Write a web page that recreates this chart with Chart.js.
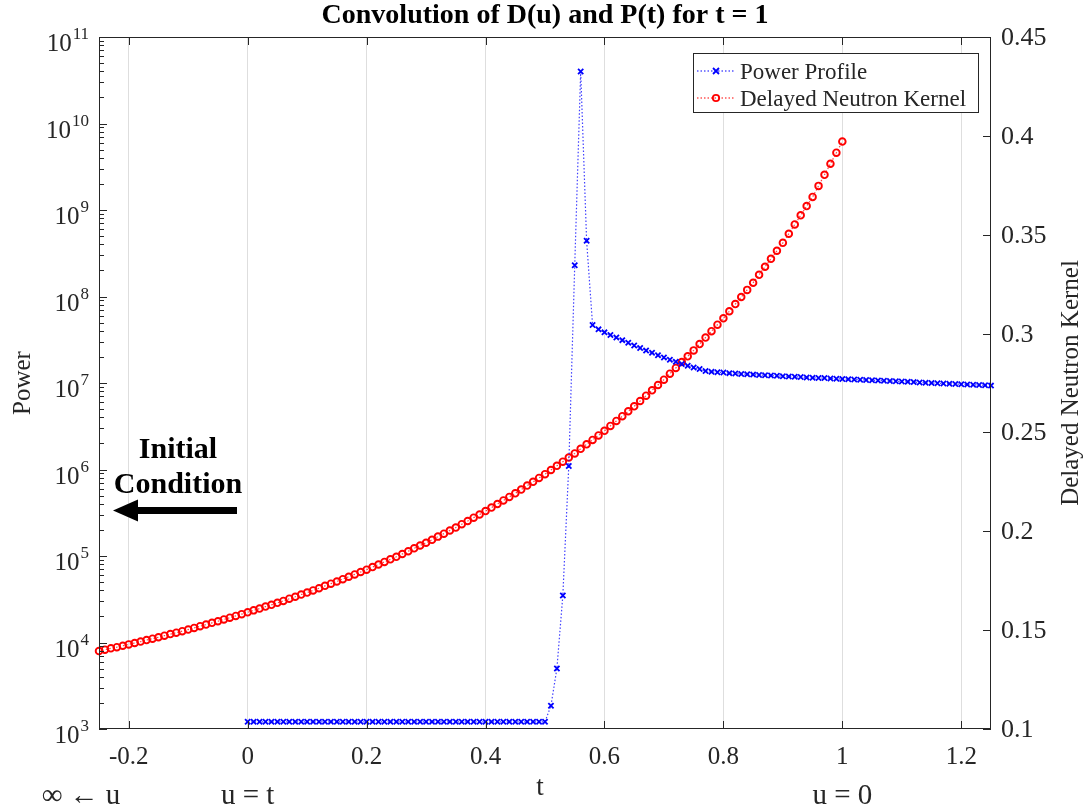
<!DOCTYPE html>
<html>
<head>
<meta charset="utf-8">
<script src="https://cdn.jsdelivr.net/npm/chart.js@4.4.1/dist/chart.umd.min.js"></script>
<style>
  html, body { margin: 0; padding: 0; background: #fff; }
  #wrap { width: 1088px; height: 809px; }
</style>
</head>
<body>
<div id="wrap"><canvas id="chart" width="1088" height="809"></canvas></div>
<script>
// Power profile P(t), left (log) axis
const powerT = [
  0.00, 0.01, 0.02, 0.03, 0.04, 0.05, 0.06, 0.07, 0.08, 0.09,
  0.10, 0.11, 0.12, 0.13, 0.14, 0.15, 0.16, 0.17, 0.18, 0.19,
  0.20, 0.21, 0.22, 0.23, 0.24, 0.25, 0.26, 0.27, 0.28, 0.29,
  0.30, 0.31, 0.32, 0.33, 0.34, 0.35, 0.36, 0.37, 0.38, 0.39,
  0.40, 0.41, 0.42, 0.43, 0.44, 0.45, 0.46, 0.47, 0.48, 0.49,
  0.50, 0.51, 0.52, 0.53, 0.54, 0.55, 0.56, 0.57, 0.58, 0.59,
  0.60, 0.61, 0.62, 0.63, 0.64, 0.65, 0.66, 0.67, 0.68, 0.69,
  0.70, 0.71, 0.72, 0.73, 0.74, 0.75, 0.76, 0.77, 0.78, 0.79,
  0.80, 0.81, 0.82, 0.83, 0.84, 0.85, 0.86, 0.87, 0.88, 0.89,
  0.90, 0.91, 0.92, 0.93, 0.94, 0.95, 0.96, 0.97, 0.98, 0.99,
  1.00, 1.01, 1.02, 1.03, 1.04, 1.05, 1.06, 1.07, 1.08, 1.09,
  1.10, 1.11, 1.12, 1.13, 1.14, 1.15, 1.16, 1.17, 1.18, 1.19,
  1.20, 1.21, 1.22, 1.23, 1.24, 1.25
];
const powerVals = [
  1210, 1210, 1210, 1210, 1210, 1210, 1210, 1210, 1210, 1210,
  1210, 1210, 1210, 1210, 1210, 1210, 1210, 1210, 1210, 1210,
  1210, 1210, 1210, 1210, 1210, 1210, 1210, 1210, 1210, 1210,
  1210, 1210, 1210, 1210, 1210, 1210, 1210, 1210, 1210, 1210,
  1210, 1210, 1210, 1210, 1210, 1210, 1210, 1210, 1210, 1210,
  1210, 1860, 5000, 3.5e4, 1.1e6, 2.3e8, 4.0e10, 4.4e8, 4.68e7, 4.17e7,
  3.85e7, 3.59e7, 3.35e7, 3.13e7, 2.92e7, 2.72e7, 2.54e7, 2.37e7, 2.24e7, 2.09e7,
  1.97e7, 1.86e7, 1.76e7, 1.66e7, 1.58e7, 1.51e7, 1.45e7, 1.38e7, 1.35e7, 1.33e7,
  1.32e7, 1.30e7, 1.29e7, 1.27e7, 1.26e7, 1.25e7, 1.24e7, 1.23e7, 1.22e7, 1.21e7,
  1.20e7, 1.19e7, 1.18e7, 1.17e7, 1.16e7, 1.15e7, 1.145e7, 1.14e7, 1.13e7, 1.12e7,
  1.115e7, 1.107e7, 1.099e7, 1.091e7, 1.083e7, 1.076e7, 1.068e7, 1.061e7, 1.053e7, 1.046e7,
  1.038e7, 1.031e7, 1.024e7, 1.016e7, 1.009e7, 1.002e7, 9.95e6, 9.88e6, 9.81e6, 9.74e6,
  9.67e6, 9.60e6, 9.53e6, 9.47e6, 9.40e6, 9.33e6
];

// Delayed neutron kernel D(u), right axis
const kernelT = [
  -0.25, -0.24, -0.23, -0.22, -0.21, -0.20, -0.19, -0.18, -0.17, -0.16,
  -0.15, -0.14, -0.13, -0.12, -0.11, -0.10, -0.09, -0.08, -0.07, -0.06,
  -0.05, -0.04, -0.03, -0.02, -0.01, 0.00, 0.01, 0.02, 0.03, 0.04,
  0.05, 0.06, 0.07, 0.08, 0.09, 0.10, 0.11, 0.12, 0.13, 0.14,
  0.15, 0.16, 0.17, 0.18, 0.19, 0.20, 0.21, 0.22, 0.23, 0.24,
  0.25, 0.26, 0.27, 0.28, 0.29, 0.30, 0.31, 0.32, 0.33, 0.34,
  0.35, 0.36, 0.37, 0.38, 0.39, 0.40, 0.41, 0.42, 0.43, 0.44,
  0.45, 0.46, 0.47, 0.48, 0.49, 0.50, 0.51, 0.52, 0.53, 0.54,
  0.55, 0.56, 0.57, 0.58, 0.59, 0.60, 0.61, 0.62, 0.63, 0.64,
  0.65, 0.66, 0.67, 0.68, 0.69, 0.70, 0.71, 0.72, 0.73, 0.74,
  0.75, 0.76, 0.77, 0.78, 0.79, 0.80, 0.81, 0.82, 0.83, 0.84,
  0.85, 0.86, 0.87, 0.88, 0.89, 0.90, 0.91, 0.92, 0.93, 0.94,
  0.95, 0.96, 0.97, 0.98, 0.99, 1.00
];
const kernelVals = [
  0.1394, 0.1401, 0.1408, 0.1414, 0.1421, 0.1428, 0.1435, 0.1442, 0.1450, 0.1457,
  0.1464, 0.1472, 0.1480, 0.1487, 0.1495, 0.1503, 0.1511, 0.1520, 0.1528, 0.1537,
  0.1545, 0.1554, 0.1563, 0.1572, 0.1581, 0.1590, 0.1600, 0.1609, 0.1619, 0.1628,
  0.1638, 0.1648, 0.1659, 0.1669, 0.1680, 0.1690, 0.1701, 0.1712, 0.1724, 0.1735,
  0.1746, 0.1758, 0.1770, 0.1782, 0.1794, 0.1806, 0.1819, 0.1832, 0.1845, 0.1858,
  0.1871, 0.1885, 0.1899, 0.1914, 0.1928, 0.1942, 0.1957, 0.1973, 0.1988, 0.2004,
  0.2019, 0.2036, 0.2052, 0.2069, 0.2085, 0.2102, 0.2120, 0.2138, 0.2156, 0.2174,
  0.2192, 0.2211, 0.2231, 0.2250, 0.2270, 0.2289, 0.2310, 0.2331, 0.2352, 0.2373,
  0.2394, 0.2417, 0.2440, 0.2462, 0.2485, 0.2508, 0.2533, 0.2558, 0.2582, 0.2607,
  0.2632, 0.2659, 0.2686, 0.2713, 0.2740, 0.2767, 0.2797, 0.2826, 0.2856, 0.2885,
  0.2915, 0.2947, 0.2980, 0.3012, 0.3045, 0.3077, 0.3113, 0.3149, 0.3185, 0.3221,
  0.3257, 0.3297, 0.3338, 0.3378, 0.3419, 0.3459, 0.3505, 0.3552, 0.3598, 0.3645,
  0.3691, 0.3747, 0.3803, 0.3859, 0.3915, 0.3971
];

// Tick values and labels
const xTicks = [-0.2, 0, 0.2, 0.4, 0.6, 0.8, 1, 1.2];
const xTickLabels = ['-0.2', '0', '0.2', '0.4', '0.6', '0.8', '1', '1.2'];
const powerExp = [3, 4, 5, 6, 7, 8, 9, 10, 11];
const kernelTicks = [0.1, 0.15, 0.2, 0.25, 0.3, 0.35, 0.4, 0.45];
const kernelTickLabels = ['0.1', '0.15', '0.2', '0.25', '0.3', '0.35', '0.4', '0.45'];

const SERIF = '"Liberation Serif", "Times New Roman", serif';
const AXIS = '#262626';
const BLUE = '#0000ff';
const RED = '#ff0000';

function drawCross(ctx, x, y, r) {
  ctx.beginPath();
  ctx.moveTo(x - r, y - r); ctx.lineTo(x + r, y + r);
  ctx.moveTo(x - r, y + r); ctx.lineTo(x + r, y - r);
  ctx.stroke();
}

const decor = {
  id: 'decor',
  afterDraw(chart) {
    const { ctx, chartArea: a, scales } = chart;
    const xs = scales.x, yl = scales.y, yr = scales.y1;
    ctx.save();

    // axes box
    ctx.strokeStyle = AXIS;
    ctx.lineWidth = 1;
    ctx.strokeRect(a.left + 0.5, a.top + 0.5, a.right - a.left - 1, a.bottom - a.top - 1);

    // inward tick marks
    ctx.beginPath();
    xTicks.forEach(v => {
      const px = Math.round(xs.getPixelForValue(v)) + 0.5;
      ctx.moveTo(px, a.bottom); ctx.lineTo(px, a.bottom - 8);
      ctx.moveTo(px, a.top); ctx.lineTo(px, a.top + 8);
    });
    powerExp.forEach(e => {
      const py = Math.round(yl.getPixelForValue(Math.pow(10, e))) + 0.5;
      ctx.moveTo(a.left, py); ctx.lineTo(a.left + 8, py);
      if (e < 11) {
        for (let k = 2; k <= 9; k++) {
          const pm = Math.round(yl.getPixelForValue(k * Math.pow(10, e))) + 0.5;
          ctx.moveTo(a.left, pm); ctx.lineTo(a.left + 5, pm);
        }
      }
    });
    kernelTicks.forEach(v => {
      const py = Math.round(yr.getPixelForValue(v)) + 0.5;
      ctx.moveTo(a.right, py); ctx.lineTo(a.right - 8, py);
    });
    ctx.stroke();

    // tick labels
    ctx.fillStyle = AXIS;
    ctx.font = '25px ' + SERIF;
    ctx.textBaseline = 'alphabetic';
    ctx.textAlign = 'center';
    xTicks.forEach((v, i) => {
      ctx.fillText(xTickLabels[i], xs.getPixelForValue(v), a.bottom + 35);
    });
    ctx.textAlign = 'left';
    ctx.font = '26px ' + SERIF;
    kernelTicks.forEach((v, i) => {
      ctx.fillText(kernelTickLabels[i], a.right + 10, yr.getPixelForValue(v) + 8);
    });
    powerExp.forEach(e => {
      const py = yl.getPixelForValue(Math.pow(10, e));
      ctx.font = '17px ' + SERIF;
      const sup = String(e);
      const wSup = ctx.measureText(sup).width;
      ctx.font = '25px ' + SERIF;
      const wBase = ctx.measureText('10').width;
      const right = a.left - 10;
      ctx.fillText('10', right - wSup - 1 - wBase, py + 14);
      ctx.font = '17px ' + SERIF;
      ctx.fillText(sup, right - wSup, py + 2);
    });

    // title
    ctx.fillStyle = '#000';
    ctx.textAlign = 'center';
    ctx.font = 'bold 28px ' + SERIF;
    ctx.fillText('Convolution of D(u) and P(t) for t = 1', (a.left + a.right) / 2, 23);

    // axis titles
    ctx.fillStyle = AXIS;
    ctx.font = '25px ' + SERIF;
    const midY = (a.top + a.bottom) / 2;
    ctx.save();
    ctx.translate(30, midY);
    ctx.rotate(-Math.PI / 2);
    ctx.fillText('Power', 0, 0);
    ctx.restore();
    ctx.save();
    ctx.translate(1078, midY);
    ctx.rotate(-Math.PI / 2);
    ctx.fillText('Delayed Neutron Kernel', 0, 0);
    ctx.restore();

    // x label and u annotations
    ctx.font = '27px ' + SERIF;
    ctx.fillText('t', (a.left + a.right) / 2 - 5, a.bottom + 66);
    ctx.font = '29px ' + SERIF;
    ctx.fillText('\u221E \u2190 u', 81, a.bottom + 75);
    ctx.fillText('u = t', xs.getPixelForValue(0), a.bottom + 75);
    ctx.fillText('u = 0', xs.getPixelForValue(1), a.bottom + 75);

    // initial condition note and arrow
    ctx.fillStyle = '#000';
    ctx.font = 'bold 30px ' + SERIF;
    ctx.fillText('Initial', 178, 458);
    ctx.fillText('Condition', 178, 493);
    ctx.fillRect(136, 507, 101, 7);
    ctx.beginPath();
    ctx.moveTo(113, 510.5);
    ctx.lineTo(138, 499.5);
    ctx.lineTo(138, 521.5);
    ctx.closePath();
    ctx.fill();

    // legend
    const lx = 693, ly = 53, lw = 285, lh = 59;
    ctx.fillStyle = '#fff';
    ctx.fillRect(lx, ly, lw, lh);
    ctx.strokeStyle = AXIS;
    ctx.lineWidth = 1;
    ctx.strokeRect(lx + 0.5, ly + 0.5, lw, lh);
    const rows = [
      { text: 'Power Profile', color: BLUE, y: 71, marker: 'x' },
      { text: 'Delayed Neutron Kernel', color: RED, y: 98, marker: 'o' }
    ];
    rows.forEach(r => {
      ctx.strokeStyle = r.color;
      ctx.lineWidth = 1.2;
      ctx.setLineDash([1.5, 2]);
      ctx.beginPath();
      ctx.moveTo(697, r.y); ctx.lineTo(735, r.y);
      ctx.stroke();
      ctx.setLineDash([]);
      ctx.lineWidth = 1.8;
      if (r.marker === 'x') {
        drawCross(ctx, 716, r.y, 3);
      } else {
        ctx.beginPath(); ctx.arc(716, r.y, 3.2, 0, Math.PI * 2); ctx.stroke();
      }
      ctx.fillStyle = AXIS;
      ctx.font = '23px ' + SERIF;
      ctx.textAlign = 'left';
      ctx.fillText(r.text, 740, r.y + 8);
    });

    ctx.restore();
  }
};

new Chart(document.getElementById('chart'), {
  type: 'line',
  data: {
    datasets: [
      {
        label: 'Power Profile',
        data: powerT.map((t, i) => ({ x: t, y: powerVals[i] })),
        yAxisID: 'y',
        borderColor: 'rgba(0,0,255,0.75)',
        borderWidth: 1.2,
        borderDash: [1.5, 2],
        pointStyle: 'crossRot',
        pointRadius: 3.7,
        pointBorderWidth: 1.8,
        pointBorderColor: BLUE,
        pointBackgroundColor: BLUE,
        fill: false,
        tension: 0,
        clip: 8
      },
      {
        label: 'Delayed Neutron Kernel',
        data: kernelT.map((t, i) => ({ x: t, y: kernelVals[i] })),
        yAxisID: 'y1',
        borderColor: 'rgba(255,0,0,0.75)',
        borderWidth: 1.2,
        borderDash: [1.5, 2],
        pointStyle: 'circle',
        pointRadius: 3.3,
        pointBorderWidth: 1.9,
        pointBorderColor: RED,
        pointBackgroundColor: 'rgba(0,0,0,0)',
        fill: false,
        tension: 0,
        clip: 8
      }
    ]
  },
  options: {
    responsive: false,
    animation: false,
    layout: { padding: { top: 37, left: 0, right: 0, bottom: 0 } },
    plugins: { legend: { display: false }, tooltip: { enabled: false }, title: { display: false } },
    scales: {
      x: {
        type: 'linear',
        min: -0.25,
        max: 1.25,
        afterBuildTicks: s => { s.ticks = xTicks.map(v => ({ value: v })); },
        afterFit: s => { s.height = 80; },
        ticks: { display: false },
        grid: { color: 'rgba(0,0,0,0.13)', lineWidth: 1, drawTicks: false },
        border: { display: false }
      },
      y: {
        type: 'logarithmic',
        position: 'left',
        min: 1e3,
        max: 1e11,
        afterBuildTicks: s => { s.ticks = powerExp.map(e => ({ value: Math.pow(10, e) })); },
        afterFit: s => { s.width = 99; },
        ticks: { display: false },
        grid: { display: false },
        border: { display: false }
      },
      y1: {
        type: 'linear',
        position: 'right',
        min: 0.1,
        max: 0.45,
        afterBuildTicks: s => { s.ticks = kernelTicks.map(v => ({ value: v })); },
        afterFit: s => { s.width = 97; },
        ticks: { display: false },
        grid: { display: false },
        border: { display: false }
      }
    }
  },
  plugins: [decor]
});
</script>
</body>
</html>
